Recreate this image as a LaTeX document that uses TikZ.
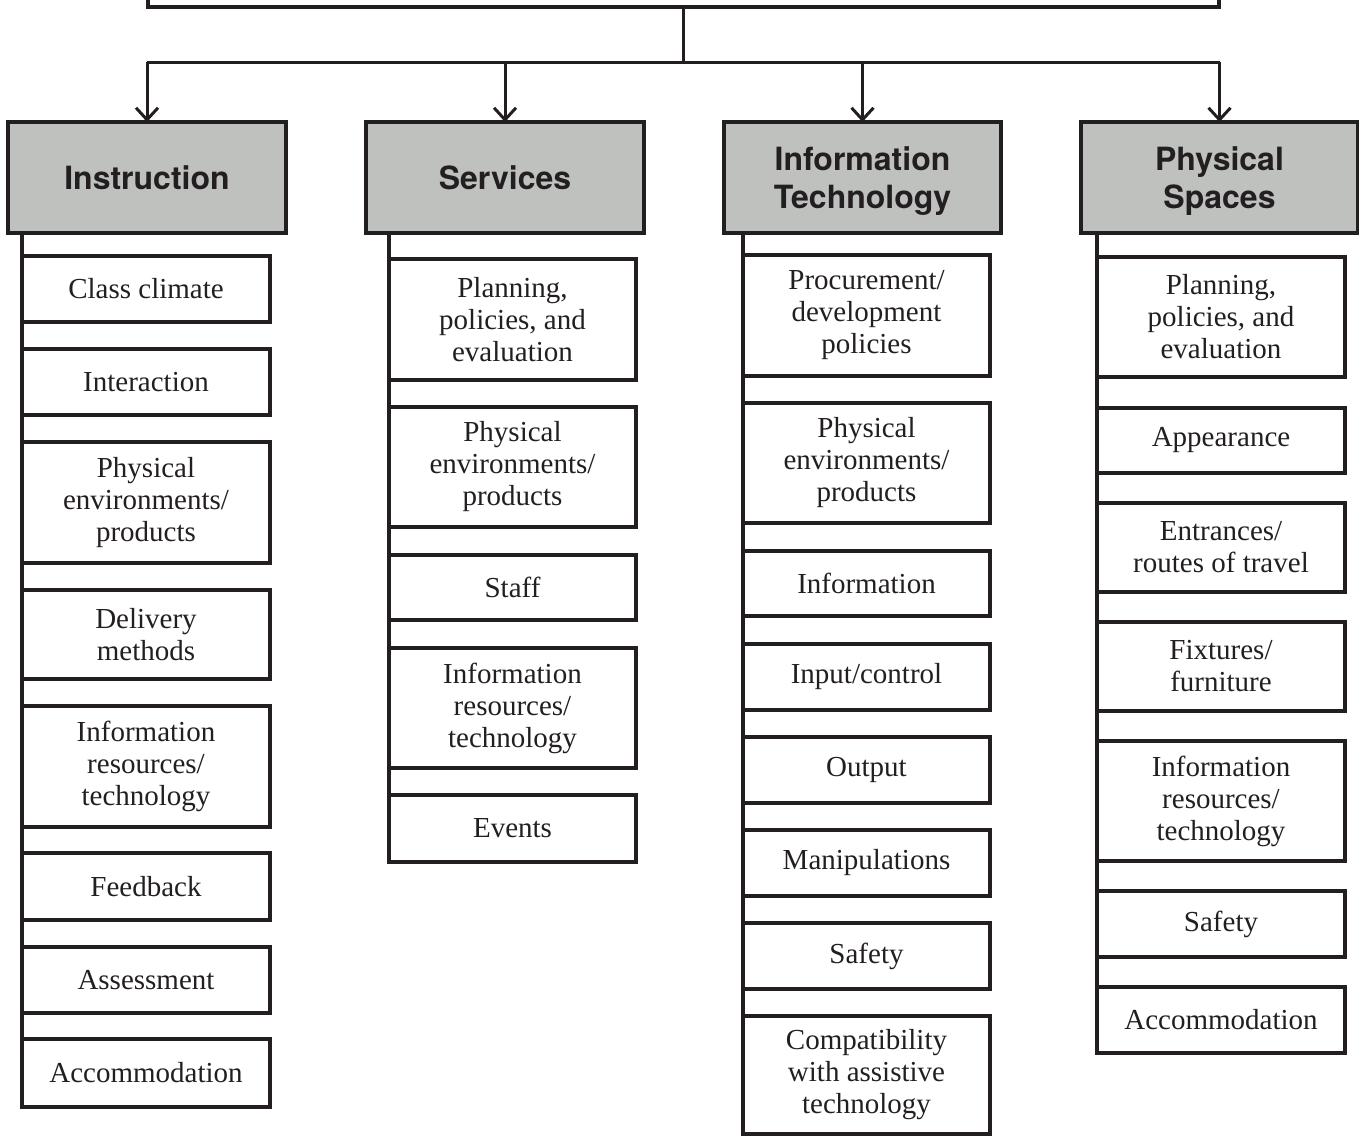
\documentclass[tikz,border=0pt]{standalone}
\usepackage{fontspec}
\setmainfont{Liberation Serif}
\newfontfamily\headfont{TeX Gyre Heros}
\usetikzlibrary{arrows.meta}
\definecolor{ink}{RGB}{35,31,32}
\definecolor{hdrgray}{RGB}{191,193,191}
\tikzset{
  cbox/.style={draw=ink, line width=1.6pt, fill=white, inner sep=0pt, outer sep=0pt, align=center, text=ink,
    font=\fontsize{14.5pt}{16pt}\selectfont, anchor=north west},
  hbox/.style={draw=ink, line width=1.6pt, fill=hdrgray, inner sep=0pt, outer sep=0pt, align=center, text=ink,
    font=\headfont\bfseries\fontsize{16pt}{19pt}\selectfont, anchor=north west, text depth=0pt},
  link/.style={draw=ink, line width=1.5pt},
  arr/.style={link, -{Straight Barb[length=6pt,width=11pt,line width=1.5pt]}}
}
\newcommand{\bx}[7]{\node[#1, minimum width={((#5)-(#3))*0.5pt}, minimum height={((#6)-(#4))*0.5pt}] (#2) at (#3,#4) {#7};}
\begin{document}
\begin{tikzpicture}[x=0.5pt,y=-0.5pt]
\useasboundingbox (0,0) rectangle (1359,1136);
\clip (0,0) rectangle (1359,1136);
% top box
\bx{cbox}{top}{148}{-60}{1219}{7}{}
% headers
\bx{hbox}{hI}{8}{122}{286}{233}{Instruction}
\bx{hbox}{hS}{366}{122}{644}{233}{Services}
\bx{hbox}{hT}{724}{122}{1001}{233}{Information\\Technology}
\bx{hbox}{hP}{1081}{122}{1358}{233}{Physical\\Spaces}
% bus and arrows
\coordinate (bus) at (683.5,62);
\draw[link] (top.south) -- (top.south |- bus);
\draw[link] (hI.north |- bus) -- (hP.north |- bus);
\foreach \h in {hI,hS,hT,hP} \draw[arr] (\h.north |- bus) -- (\h.north);
% Instruction
\bx{cbox}{i1}{22}{256}{270}{322}{Class climate}
\bx{cbox}{i2}{22}{349}{270}{415}{Interaction}
\bx{cbox}{i3}{22}{442}{270}{563}{Physical\\environments/\\products}
\bx{cbox}{i4}{22}{590}{270}{679}{Delivery\\methods}
\bx{cbox}{i5}{22}{706}{270}{827}{Information\\resources/\\technology}
\bx{cbox}{i6}{22}{853}{270}{920}{Feedback}
\bx{cbox}{i7}{22}{947}{270}{1013}{Assessment}
\bx{cbox}{i8}{22}{1039}{270}{1107}{Accommodation}
% Services
\bx{cbox}{s1}{389}{259}{636}{380}{Planning,\\policies, and\\evaluation}
\bx{cbox}{s2}{389}{407}{636}{527}{Physical\\environments/\\products}
\bx{cbox}{s3}{389}{555}{636}{620}{Staff}
\bx{cbox}{s4}{389}{648}{636}{768}{Information\\resources/\\technology}
\bx{cbox}{s5}{389}{795}{636}{862}{Events}
% Information Technology
\bx{cbox}{t1}{743}{255}{990}{376}{Procurement/\\development\\policies}
\bx{cbox}{t2}{743}{403}{990}{523}{Physical\\environments/\\products}
\bx{cbox}{t3}{743}{551}{990}{616}{Information}
\bx{cbox}{t4}{743}{644}{990}{710}{Input/control}
\bx{cbox}{t5}{743}{737}{990}{803}{Output}
\bx{cbox}{t6}{743}{830}{990}{896}{Manipulations}
\bx{cbox}{t7}{743}{923}{990}{989}{Safety}
\bx{cbox}{t8}{743}{1016}{990}{1134}{Compatibility\\with assistive\\technology}
% Physical Spaces
\bx{cbox}{p1}{1097}{257}{1345}{377}{Planning,\\policies, and\\evaluation}
\bx{cbox}{p2}{1097}{408}{1345}{473}{Appearance}
\bx{cbox}{p3}{1097}{503}{1345}{592}{Entrances/\\routes of travel}
\bx{cbox}{p4}{1097}{622}{1345}{711}{Fixtures/\\furniture}
\bx{cbox}{p5}{1097}{741}{1345}{861}{Information\\resources/\\technology}
\bx{cbox}{p6}{1097}{891}{1345}{957}{Safety}
\bx{cbox}{p7}{1097}{987}{1345}{1053}{Accommodation}
% column spines
\draw[link, line width=1.6pt] (hI.south -| i1.west) -- (i8.south west);
\draw[link, line width=1.6pt] (hS.south -| s1.west) -- (s5.south west);
\draw[link, line width=1.6pt] (hT.south -| t1.west) -- (t8.south west);
\draw[link, line width=1.6pt] (hP.south -| p1.west) -- (p7.south west);
\end{tikzpicture}
\end{document}
